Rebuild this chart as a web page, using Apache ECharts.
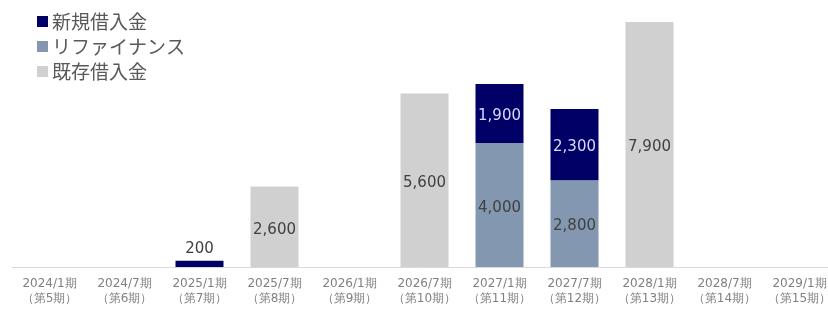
<!DOCTYPE html>
<html>
<head>
<meta charset="utf-8">
<script src="https://cdn.jsdelivr.net/npm/echarts@6/dist/echarts.min.js"></script>
<style>
  html, body { margin: 0; padding: 0; background: #fff; }
  #chart { width: 828px; height: 315px; }
</style>
</head>
<body>
<div id="chart"></div>
<script>
// 期ごとのカテゴリ
var periods = ['2024/1期', '2024/7期', '2025/1期', '2025/7期', '2026/1期', '2026/7期',
  '2027/1期', '2027/7期', '2028/1期', '2028/7期', '2029/1期'];
var terms = ['（第5期）', '（第6期）', '（第7期）', '（第8期）', '（第9期）', '（第10期）',
  '（第11期）', '（第12期）', '（第13期）', '（第14期）', '（第15期）'];
// 既存借入金
var existingLoan = [null, null, null, 2600, null, 5600, null, null, 7900, null, null];
// リファイナンス
var refinance = [null, null, null, null, null, null, 4000, 2800, null, null, null];
// 新規借入金
var newLoan = [null, null, 200, null, null, null, 1900, 2300, null, null, null];

var categories = periods.map(function (p, i) { return p + '\n' + terms[i]; });

function fmt(params) {
  return params.value == null ? '' : Number(params.value).toLocaleString('en-US');
}

var myChart = echarts.init(document.getElementById('chart'));
var labelFont = 'DejaVu Sans';
var option = {
  animation: false,
  legend: {
    orient: 'vertical',
    left: 32,
    top: 7,
    itemWidth: 11,
    itemHeight: 11,
    itemGap: 6,
    icon: 'rect',
    data: ['新規借入金', 'リファイナンス', '既存借入金'],
    textStyle: {
      fontFamily: 'Noto Sans CJK JP',
      fontSize: 19,
      color: '#595959',
      padding: [0, 0, 0, -1]
    }
  },
  grid: {
    left: 12,
    width: 825,
    top: 19,
    bottom: 48,
    outerBoundsMode: 'none'
  },
  xAxis: {
    type: 'category',
    data: categories,
    axisLine: { lineStyle: { color: '#d9d9d9' } },
    axisTick: { show: false },
    axisLabel: {
      interval: 0,
      fontFamily: labelFont,
      fontSize: 12,
      lineHeight: 15,
      color: '#808080',
      margin: 9
    }
  },
  yAxis: {
    type: 'value',
    min: 0,
    max: 8000,
    show: false,
    splitLine: { show: false }
  },
  series: [
    {
      name: '既存借入金',
      type: 'bar',
      stack: 'total',
      barWidth: 48,
      data: existingLoan,
      itemStyle: { color: '#d0d0d0' },
      label: {
        show: true,
        position: 'inside',
        offset: [0, 3],
        formatter: fmt,
        fontFamily: labelFont,
        fontSize: 15,
        color: '#404040'
      }
    },
    {
      name: 'リファイナンス',
      type: 'bar',
      stack: 'total',
      barWidth: 48,
      data: refinance,
      itemStyle: { color: '#8497b0' },
      label: {
        show: true,
        position: 'inside',
        offset: [0, 3],
        formatter: fmt,
        fontFamily: labelFont,
        fontSize: 15,
        color: '#404040'
      }
    },
    {
      name: '新規借入金',
      type: 'bar',
      stack: 'total',
      barWidth: 48,
      data: newLoan.map(function (v) {
        // 200は棒の上にラベル
        if (v != null && v < 1000) {
          return { value: v, label: { position: 'top', color: '#404040', distance: 4, offset: [0, 0] } };
        }
        return v;
      }),
      itemStyle: { color: '#000066' },
      label: {
        show: true,
        position: 'inside',
        offset: [0, 3],
        formatter: fmt,
        fontFamily: labelFont,
        fontSize: 15,
        color: '#d9d9ff'
      }
    }
  ]
};
myChart.setOption(option);
</script>
</body>
</html>
